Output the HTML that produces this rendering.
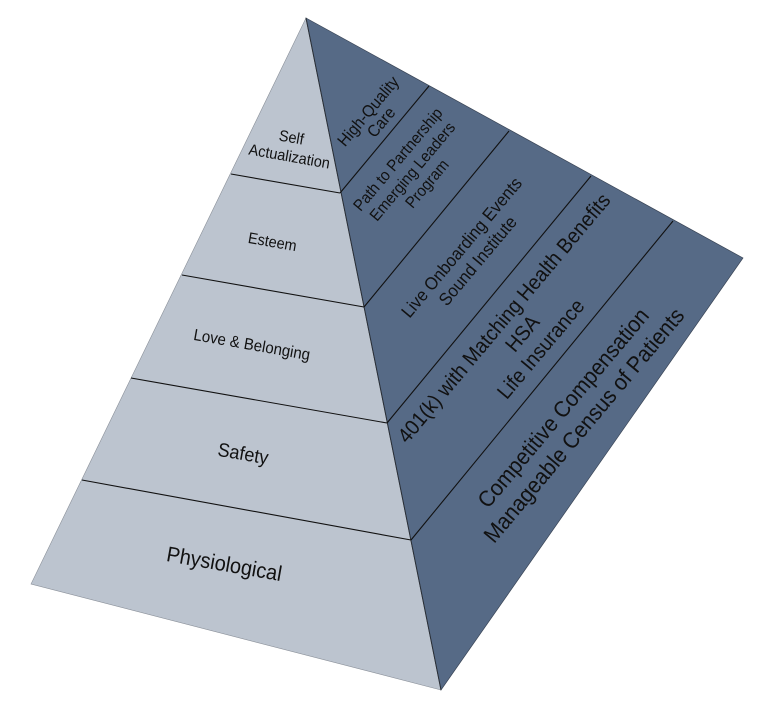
<!DOCTYPE html>
<html>
<head>
<meta charset="utf-8">
<style>
  html, body { margin: 0; padding: 0; background: #ffffff; }
  svg { display: block; }
  text { font-family: "Liberation Sans", Arial, sans-serif; fill: #111; }
</style>
</head>
<body>
<svg width="771" height="708" viewBox="0 0 771 708" xmlns="http://www.w3.org/2000/svg">
  <!-- faces -->
  <polygon points="306,18 31,584 441,690" fill="#BCC4CF" stroke="#8a9099" stroke-width="0.6"/>
  <polygon points="306,18 743,258 441,690" fill="#566A86" stroke="#3a4556" stroke-width="0.7"/>
  <line x1="306" y1="18" x2="441" y2="690" stroke="#2a2f36" stroke-width="1"/>

  <!-- left dividers -->
  <g stroke="#111" stroke-width="1.1">
    <line x1="231" y1="174" x2="340" y2="193"/>
    <line x1="182" y1="275" x2="364" y2="307"/>
    <line x1="131" y1="378" x2="387" y2="423"/>
    <line x1="82" y1="480" x2="411" y2="540"/>
  </g>
  <!-- right dividers -->
  <g stroke="#111" stroke-width="1.1">
    <line x1="340" y1="193" x2="429" y2="86"/>
    <line x1="364" y1="307" x2="509" y2="131"/>
    <line x1="387" y1="423" x2="591" y2="176"/>
    <line x1="411" y1="540" x2="673" y2="221"/>
  </g>

  <!-- left labels (rotated ~10deg) -->
  <g text-anchor="middle">
    <text font-size="15.6" transform="translate(290.5,142.5) rotate(10) scale(0.93,1)">Self</text>
    <text font-size="15.6" transform="translate(288.5,161.5) rotate(10) scale(0.93,1)">Actualization</text>
    <text font-size="15.6" transform="translate(271.5,247) rotate(10) scale(0.93,1)">Esteem</text>
    <text font-size="16.2" transform="translate(251,350) rotate(10) scale(0.93,1)">Love &amp; Belonging</text>
    <text font-size="19.4" transform="translate(242,460) rotate(10) scale(0.93,1)">Safety</text>
    <text font-size="21.5" transform="translate(223,571) rotate(10) scale(0.93,1)">Physiological</text>
  </g>

  <!-- right labels (rotated -50deg) -->
  <g text-anchor="middle" dominant-baseline="central">
    <g transform="translate(375,117) rotate(-50) scale(0.93,1)" font-size="16.7">
      <text x="0" y="-8.5">High-Quality</text>
      <text x="0" y="8.5">Care</text>
    </g>
    <g transform="translate(413,172) rotate(-50) scale(0.93,1)" font-size="16.2">
      <text x="0" y="-19">Path to Partnership</text>
      <text x="0" y="0">Emerging Leaders</text>
      <text x="0" y="19">Program</text>
    </g>
    <g transform="translate(469.5,254) rotate(-50) scale(0.93,1)" font-size="17.8">
      <text x="0" y="-10.5">Live Onboarding Events</text>
      <text x="0" y="10.5">Sound Institute</text>
    </g>
    <g transform="translate(523,334) rotate(-50) scale(0.93,1)" font-size="21">
      <text x="0" y="-24">401(k) with Matching Health Benefits</text>
      <text x="0" y="0">HSA</text>
      <text x="0" y="24">Life Insurance</text>
    </g>
    <g transform="translate(573.5,416.5) rotate(-50) scale(0.93,1)" font-size="22.6">
      <text x="0" y="-13.5">Competitive Compensation</text>
      <text x="0" y="13.5">Manageable Census of Patients</text>
    </g>
  </g>
</svg>
</body>
</html>
